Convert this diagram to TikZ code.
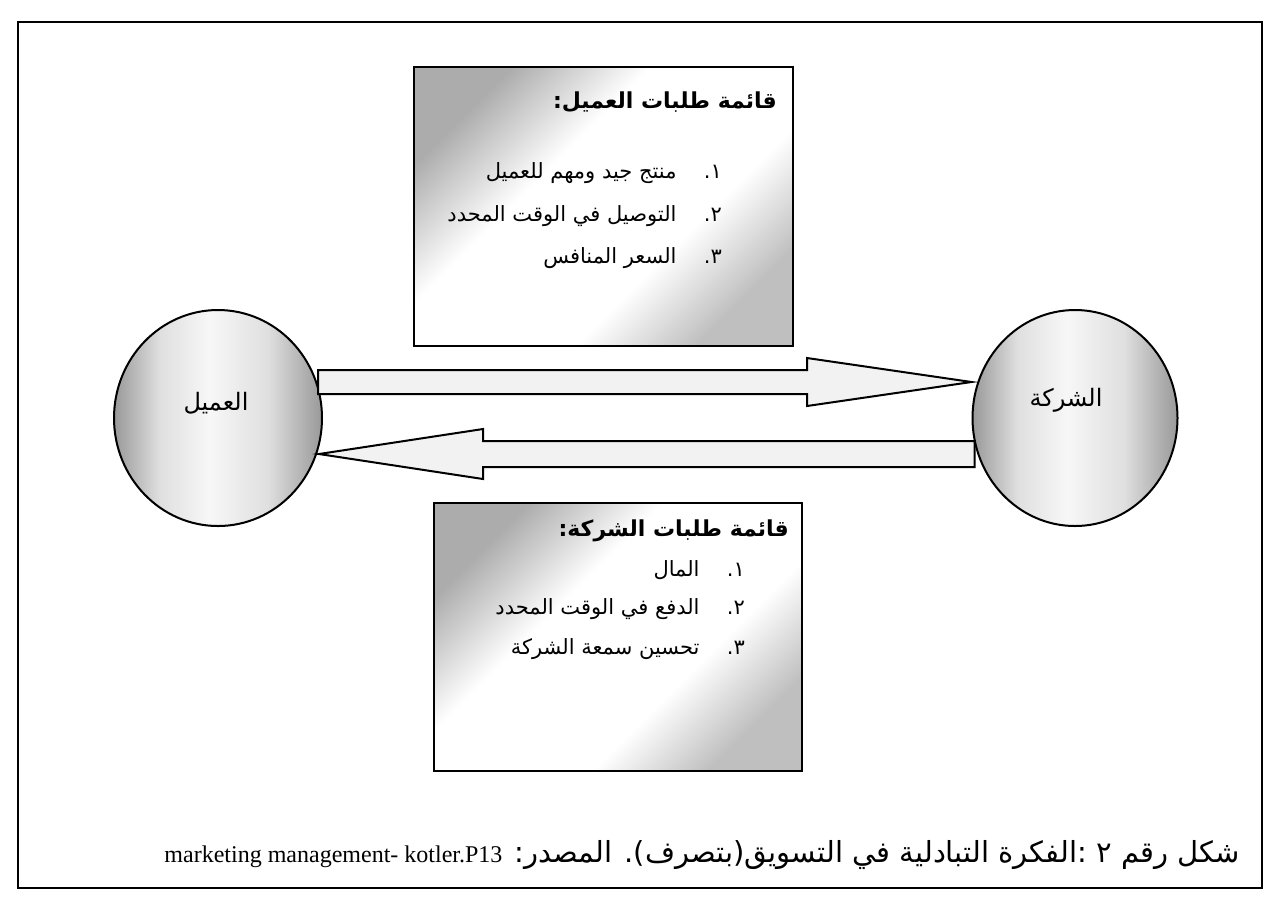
\documentclass[tikz,border=0pt]{standalone}
\usepackage{fontspec}
\setmainfont{Liberation Serif}
\newfontfamily\arabicfont[Script=Arabic]{DejaVu Sans}
\TeXXeTstate=1
\usetikzlibrary{
  calc,
  positioning,
  shapes,
}
\pgfdeclarehorizontalshading{boxshade}{100bp}{color(0bp)=(gray!65); color(25bp)=(gray!65); color(40bp)=(white); color(62bp)=(white); color(75bp)=(gray!50); color(100bp)=(gray!50)}
\pgfdeclarehorizontalshading{ballshade}{100bp}{color(0bp)=(gray!80); color(25bp)=(gray!80); color(36bp)=(gray!25); color(48bp)=(gray!6); color(62bp)=(gray!25); color(75bp)=(gray!80); color(100bp)=(gray!80)}
\tikzstyle{listbox} = [
  draw,
  rectangle,
  line width=1.2pt,
  shading=boxshade,
  shading angle=-45,
]
\tikzstyle{party} = [
  draw,
  ellipse,
  line width=1pt,
  shading=ballshade,
]
\tikzstyle{fatarrow} = [
  draw,
  line width=1pt,
  fill=gray!10,
  line join=miter,
]
\tikzstyle{listhead} = [anchor=east, inner sep=0pt, font=\arabicfont\bfseries\fontsize{11}{13}\selectfont]
\tikzstyle{listitem} = [anchor=east, inner sep=0pt, font=\arabicfont\fontsize{10.5}{12}\selectfont]

\begin{document}
\begin{tikzpicture}[x=0.5pt,y=-0.5pt]
  \useasboundingbox (0,0) rectangle (1273,902);
  \draw[line width=1.2pt] (18,22) rectangle (1262,888);

  \node[listbox,minimum width=189.5pt,minimum height=139.5pt] (custbox) at (603.5,206.5) {};
  \node[listbox,minimum width=184pt,minimum height=134pt] (compbox) at (618,637) {};

  \node[party,minimum width=104pt,minimum height=108pt] (cust) at (218,418) {};
  \node[party,minimum width=102.5pt,minimum height=108pt] (comp) at (1075,418) {};
  \node[font=\arabicfont\large] (custlabel) at (216,403) {\beginR العميل\endR};
  \node[font=\arabicfont\large] (complabel) at (1066,400) {\beginR الشركة\endR};

  % customer requests
  \node[listhead] (custhead) at ($(custbox.north east)+(-17,36)$) {\beginR قائمة طلبات العميل:\endR};
  \node[listitem] (cust1) at ($(custbox.north east)+(-72,107)$) {\beginR ١.\hspace{1.3em}منتج جيد ومهم للعميل\endR};
  \node[listitem] (cust2) at ($(custbox.north east)+(-72,150)$) {\beginR ٢.\hspace{1.3em}التوصيل في الوقت المحدد\endR};
  \node[listitem] (cust3) at ($(custbox.north east)+(-72,192)$) {\beginR ٣.\hspace{1.3em}السعر المنافس\endR};

  % company requests
  \node[listhead] (comphead) at ($(compbox.north east)+(-14,29)$) {\beginR قائمة طلبات الشركة:\endR};
  \node[listitem] (comp1) at ($(compbox.north east)+(-58,68)$) {\beginR ١.\hspace{1.3em}المال\endR};
  \node[listitem] (comp2) at ($(compbox.north east)+(-58,107)$) {\beginR ٢.\hspace{1.3em}الدفع في الوقت المحدد\endR};
  \node[listitem] (comp3) at ($(compbox.north east)+(-58,147)$) {\beginR ٣.\hspace{1.3em}تحسين سمعة الشركة\endR};

  % exchange arrows
  \coordinate (a1tail) at ($(cust.east |- 0,382)+(-5,0)$);
  \coordinate (a1tip) at (comp.west |- 0,382);
  \coordinate (a1head) at (807,382);
  \draw[fatarrow] ($(a1tail)+(0,-12)$) -- ($(a1head)+(0,-12)$) -- ($(a1head)+(0,-24)$) -- (a1tip)
    -- ($(a1head)+(0,24)$) -- ($(a1head)+(0,12)$) -- ($(a1tail)+(0,12)$) -- cycle;
  \coordinate (a2tail) at ($(comp.west |- 0,454)+(3,0)$);
  \coordinate (a2tip) at ($(cust.east |- 0,454)+(-4,0)$);
  \coordinate (a2head) at (483,454);
  \draw[fatarrow] ($(a2tail)+(0,-13)$) -- ($(a2head)+(0,-13)$) -- ($(a2head)+(0,-25)$) -- (a2tip)
    -- ($(a2head)+(0,25)$) -- ($(a2head)+(0,13)$) -- ($(a2tail)+(0,13)$) -- cycle;

  \node[anchor=east,inner sep=0pt,font=\arabicfont\fontsize{14.5}{18}\selectfont] (caption) at (1240,855)
    {\beginR شكل رقم ٢ :الفكرة التبادلية في التسويق(بتصرف). المصدر: \beginL{\rmfamily\fontsize{12}{14}\selectfont marketing management- kotler.P13}\endL\endR};
\end{tikzpicture}
\end{document}
